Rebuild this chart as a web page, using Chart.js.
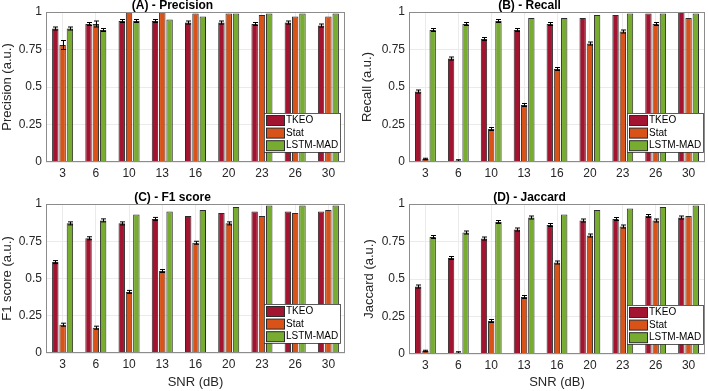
<!DOCTYPE html>
<html>
<head>
<meta charset="utf-8">
<script src="https://cdn.jsdelivr.net/npm/chart.js@4.4.1/dist/chart.umd.min.js"></script>
<style>
  html, body { margin: 0; padding: 0; background: #fff; }
  body { width: 708px; height: 391px; position: relative; overflow: hidden; }
  .panel { position: absolute; }
</style>
</head>
<body>
<div class="panel" id="pA" style="left:0px;top:0px"><canvas id="cA" width="354" height="195"></canvas></div>
<div class="panel" id="pB" style="left:354px;top:0px"><canvas id="cB" width="354" height="195"></canvas></div>
<div class="panel" id="pC" style="left:0px;top:192px"><canvas id="cC" width="354" height="199"></canvas></div>
<div class="panel" id="pD" style="left:354px;top:192px"><canvas id="cD" width="354" height="199"></canvas></div>
<script>
// SNR categories and legend names
const snrLabels = ['3', '6', '10', '13', '16', '20', '23', '26', '30'];
const seriesNames = ['TKEO', 'Stat', 'LSTM-MAD'];
const yTicks = [0, 0.25, 0.5, 0.75, 1];

// (A) Precision
const precTkeo = [0.89, 0.92, 0.94, 0.94, 0.93, 0.93, 0.92, 0.93, 0.91];
const precStat = [0.78, 0.92, 1.00, 1.00, 0.99, 0.99, 0.98, 0.97, 0.97];
const precLstm = [0.89, 0.88, 0.94, 0.95, 0.97, 0.99, 0.99, 0.99, 0.99];
const precTkeoErr = [0.01, 0.01, 0.01, 0.01, 0.01, 0.01, 0.01, 0.01, 0.01];
const precStatErr = [0.03, 0.02, 0, 0, 0, 0, 0, 0, 0];
const precLstmErr = [0.01, 0.01, 0.01, 0, 0, 0, 0, 0, 0];

// (B) Recall
const recTkeo = [0.47, 0.69, 0.82, 0.88, 0.92, 0.96, 0.98, 0.99, 1.00];
const recStat = [0.02, 0.01, 0.22, 0.38, 0.62, 0.79, 0.87, 0.92, 0.96];
const recLstm = [0.88, 0.92, 0.94, 0.96, 0.96, 0.98, 0.99, 0.99, 0.99];
const recTkeoErr = [0.01, 0.01, 0.01, 0.01, 0.01, 0, 0, 0, 0];
const recStatErr = [0.005, 0.005, 0.01, 0.01, 0.01, 0.01, 0.01, 0.01, 0];
const recLstmErr = [0.01, 0.01, 0.01, 0, 0, 0, 0, 0, 0];

// (C) F1 score
const f1Tkeo = [0.61, 0.77, 0.87, 0.90, 0.92, 0.94, 0.95, 0.95, 0.95];
const f1Stat = [0.19, 0.17, 0.41, 0.55, 0.74, 0.87, 0.92, 0.94, 0.96];
const f1Lstm = [0.87, 0.89, 0.93, 0.95, 0.96, 0.98, 0.99, 0.99, 0.99];
const f1TkeoErr = [0.01, 0.01, 0.01, 0.01, 0, 0, 0, 0, 0];
const f1StatErr = [0.01, 0.01, 0.01, 0.01, 0.01, 0.01, 0, 0, 0];
const f1LstmErr = [0.01, 0.01, 0, 0, 0, 0, 0, 0, 0];

// (D) Jaccard
const jacTkeo = [0.45, 0.64, 0.77, 0.83, 0.86, 0.89, 0.90, 0.92, 0.91];
const jacStat = [0.02, 0.01, 0.22, 0.38, 0.61, 0.79, 0.85, 0.89, 0.92];
const jacLstm = [0.78, 0.81, 0.88, 0.91, 0.93, 0.96, 0.97, 0.98, 0.99];
const jacTkeoErr = [0.01, 0.01, 0.01, 0.01, 0.01, 0.01, 0.01, 0.01, 0.01];
const jacStatErr = [0.005, 0.005, 0.01, 0.01, 0.01, 0.01, 0.01, 0.01, 0];
const jacLstmErr = [0.01, 0.01, 0.01, 0.01, 0, 0, 0, 0, 0];

const colors = ['#A2142F', '#D95319', '#77AC30'];
const edge = '#2b2b2b';

Chart.defaults.font.family = '"Liberation Sans", Arial, Helvetica, sans-serif';
Chart.defaults.color = '#262626';
Chart.defaults.animation = false;

// error bars, axes box and the inset legend
const matlabLook = {
    id: 'matlabLook',
    afterDatasetsDraw(chart) {
        const ctx = chart.ctx;
        const y = chart.scales.y;
        ctx.save();
        ctx.strokeStyle = '#000';
        ctx.lineWidth = 1;
        chart.data.datasets.forEach((ds, i) => {
            const meta = chart.getDatasetMeta(i);
            meta.data.forEach((bar, j) => {
                const e = ds.errors[j];
                if (!e) return;
                const v = ds.data[j];
                const x = Math.round(bar.x) + 0.5;
                const t = y.getPixelForValue(Math.min(v + e, 1));
                const b = y.getPixelForValue(v - e);
                ctx.beginPath();
                ctx.moveTo(x, t);
                ctx.lineTo(x, b);
                ctx.moveTo(x - 2.5, t);
                ctx.lineTo(x + 2.5, t);
                ctx.moveTo(x - 2.5, b);
                ctx.lineTo(x + 2.5, b);
                ctx.stroke();
            });
        });
        const a = chart.chartArea;
        ctx.strokeStyle = '#8c8c8c';
        ctx.strokeRect(Math.round(a.left) + 0.5, Math.round(a.top) + 0.5,
            Math.round(a.width) - 1, Math.round(a.height) - 1);
        ctx.restore();
    },
    afterDraw(chart, args, opts) {
        const ctx = chart.ctx;
        const a = chart.chartArea;
        const w = 76, h = 39;
        const x0 = a.right - opts.inset - w;
        const y0 = a.bottom - 10 - h;
        ctx.save();
        ctx.fillStyle = '#fff';
        ctx.fillRect(x0, y0, w, h);
        ctx.strokeStyle = '#333';
        ctx.lineWidth = 0.8;
        ctx.strokeRect(x0 + 0.5, y0 + 0.5, w, h);
        ctx.font = '10px "Liberation Sans", Arial, sans-serif';
        ctx.textBaseline = 'middle';
        chart.data.datasets.forEach((ds, i) => {
            const cy = y0 + 7 + i * 12.6;
            ctx.fillStyle = ds.backgroundColor;
            ctx.fillRect(x0 + 2.5, cy - 4.5, 18, 10);
            ctx.strokeStyle = edge;
            ctx.lineWidth = 1;
            ctx.strokeRect(x0 + 2.5, cy - 4.5, 18, 10);
            ctx.fillStyle = '#000';
            ctx.fillText(ds.label, x0 + 22, cy + 0.5);
        });
        ctx.restore();
    }
};

function makePanel(id, title, yTitle, series, errs, lay) {
    const datasets = series.map((vals, i) => ({
        label: seriesNames[i],
        data: vals,
        errors: errs[i],
        backgroundColor: colors[i],
        borderColor: edge,
        borderWidth: 1,
        categoryPercentage: 0.66,
        barPercentage: 0.88
    }));
    return new Chart(document.getElementById(id), {
        type: 'bar',
        data: { labels: snrLabels, datasets: datasets },
        options: {
            responsive: false,
            layout: { padding: { left: 0, right: lay.padRight, top: 0, bottom: 0 } },
            plugins: {
                legend: { display: false },
                tooltip: { enabled: false },
                title: {
                    display: true,
                    text: title,
                    color: '#000',
                    font: { size: 12, weight: 'bold', lineHeight: 1 },
                    padding: 0
                },
                matlabLook: { inset: lay.legendInset }
            },
            scales: {
                x: {
                    grid: { offset: false, color: '#ebebeb', drawTicks: false },
                    border: { display: false },
                    ticks: { font: { size: 12 }, padding: 4, maxRotation: 0 },
                    title: {
                        display: !!lay.xTitle,
                        text: lay.xTitle || '',
                        font: { size: 13, lineHeight: 1 },
                        padding: { top: 0, bottom: 2 }
                    },
                    afterFit: (s) => { s.height = lay.xHeight; }
                },
                y: {
                    min: 0,
                    max: 1,
                    grid: { color: '#ebebeb', drawTicks: false },
                    border: { display: false },
                    ticks: {
                        font: { size: 12 },
                        padding: 4,
                        callback: (v) => String(v)
                    },
                    afterBuildTicks: (s) => { s.ticks = yTicks.map(v => ({ value: v })); },
                    title: {
                        display: true,
                        text: yTitle,
                        font: { size: 13, lineHeight: 1 },
                        padding: { top: lay.yTitleOff, bottom: 0 }
                    },
                    afterFit: (s) => { s.width = lay.yWidth; }
                }
            }
        },
        plugins: [matlabLook]
    });
}

makePanel('cA', '(A) - Precision', 'Precision (a.u.)',
    [precTkeo, precStat, precLstm], [precTkeoErr, precStatErr, precLstmErr],
    { yWidth: 46, padRight: 9, xHeight: 33, yTitleOff: 0.5, legendInset: 5 });
makePanel('cB', '(B) - Recall', 'Recall (a.u.)',
    [recTkeo, recStat, recLstm], [recTkeoErr, recStatErr, recLstmErr],
    { yWidth: 55, padRight: 3, xHeight: 33, yTitleOff: 6.5, legendInset: 2 });
makePanel('cC', '(C) - F1 score', 'F1 score (a.u.)',
    [f1Tkeo, f1Stat, f1Lstm], [f1TkeoErr, f1StatErr, f1LstmErr],
    { yWidth: 46, padRight: 9, xHeight: 38, yTitleOff: 0.5, legendInset: 5, xTitle: 'SNR (dB)' });
makePanel('cD', '(D) - Jaccard', 'Jaccard (a.u.)',
    [jacTkeo, jacStat, jacLstm], [jacTkeoErr, jacStatErr, jacLstmErr],
    { yWidth: 55, padRight: 3, xHeight: 37, yTitleOff: 8.5, legendInset: 2, xTitle: 'SNR (dB)' });
</script>
</body>
</html>
